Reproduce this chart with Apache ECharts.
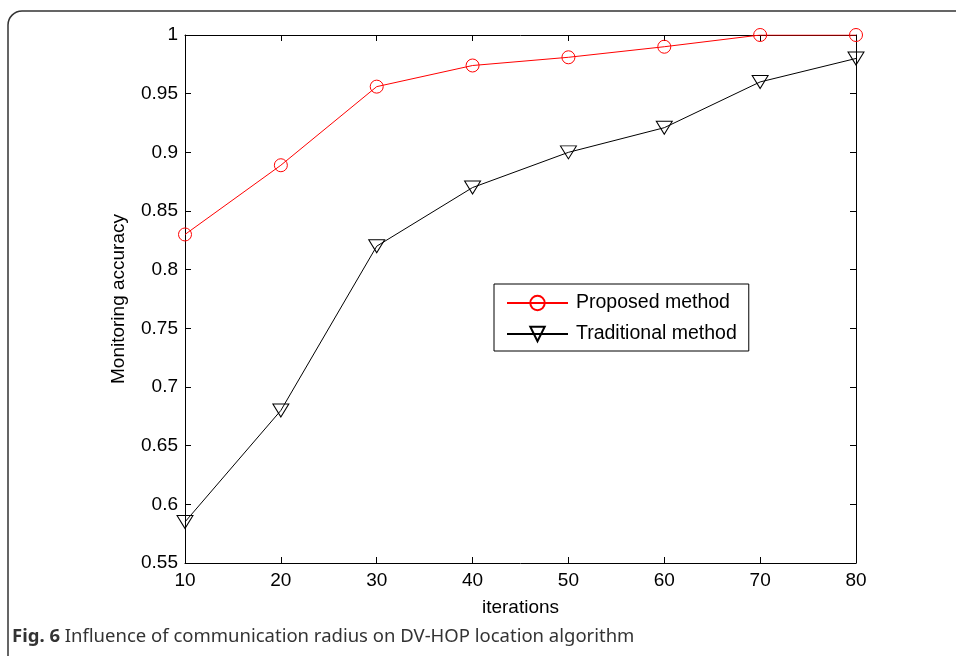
<!DOCTYPE html>
<html>
<head>
<meta charset="utf-8">
<script src="https://cdn.jsdelivr.net/npm/echarts@6/dist/echarts.min.js"></script>
<style>
  html, body { margin: 0; padding: 0; background: #fff; }
  #chart { width: 956px; height: 656px; }
</style>
</head>
<body>
<div id="chart"></div>
<script>
const iterations = [10, 20, 30, 40, 50, 60, 70, 80];
const proposed = [0.830, 0.889, 0.956, 0.974, 0.981, 0.990, 1.000, 1.000];
const traditional = [0.585, 0.680, 0.820, 0.870, 0.900, 0.921, 0.960, 0.980];

const font = '"Liberation Sans", Arial, sans-serif';

function pairs(xs, ys) {
  return xs.map((x, i) => [x, ys[i]]);
}

const chart = echarts.init(document.getElementById('chart'), null, { renderer: 'canvas' });

const hiddenAxis = {
  axisLine: { show: true, lineStyle: { color: '#000', width: 1 } },
  axisTick: { show: true, inside: true, length: 6, lineStyle: { color: '#000' } },
  axisLabel: { show: false },
  splitLine: { show: false }
};

chart.setOption({
  animation: false,
  grid: { left: 185, right: 100, top: 35, bottom: 93 },
  xAxis: [{
    type: 'value', min: 10, max: 80, interval: 10,
    name: 'iterations', nameLocation: 'middle', nameGap: 35,
    nameTextStyle: { fontFamily: font, fontSize: 19, color: '#000' },
    axisLine: { lineStyle: { color: '#000', width: 1 } },
    axisTick: { inside: true, length: 6, lineStyle: { color: '#000' } },
    axisLabel: { fontFamily: font, fontSize: 19, color: '#000', margin: 8 },
    splitLine: { show: false }
  }, {
    type: 'value', min: 10, max: 80, interval: 10, position: 'top', ...hiddenAxis
  }],
  yAxis: [{
    type: 'value', min: 0.55, max: 1, interval: 0.05,
    name: 'Monitoring accuracy', nameLocation: 'middle', nameGap: 57,
    nameTextStyle: { fontFamily: font, fontSize: 19, color: '#000' },
    axisLine: { show: true, lineStyle: { color: '#000', width: 1 } },
    axisTick: { show: true, inside: true, length: 6, lineStyle: { color: '#000' } },
    axisLabel: {
      fontFamily: font, fontSize: 19, color: '#000', margin: 7,
      formatter: v => String(+v.toFixed(2))
    },
    splitLine: { show: false }
  }, {
    type: 'value', min: 0.55, max: 1, interval: 0.05, position: 'right', ...hiddenAxis
  }],
  legend: {
    left: 494, top: 284,
    orient: 'vertical',
    backgroundColor: '#fff',
    borderColor: '#000', borderWidth: 1,
    padding: [9, 12, 7, 12],
    itemWidth: 61, itemHeight: 18, itemGap: 11,
    textStyle: { fontFamily: font, fontSize: 19.5, lineHeight: 20, color: '#000', padding: [0, 0, 0, 3] },
    data: ['Proposed method', 'Traditional method']
  },
  series: [{
    name: 'Proposed method',
    type: 'line',
    data: pairs(iterations, proposed),
    symbol: 'circle', symbolSize: 13,
    lineStyle: { color: '#ff0000', width: 1 },
    itemStyle: { color: 'rgba(255,255,255,0)', borderColor: '#ff0000', borderWidth: 1 },
    z: 3
  }, {
    name: 'Traditional method',
    type: 'line',
    data: pairs(iterations, traditional),
    symbol: 'triangle', symbolSize: [16, 13], symbolRotate: 180,
    lineStyle: { color: '#000', width: 1 },
    itemStyle: { color: 'rgba(255,255,255,0)', borderColor: '#000', borderWidth: 1 },
    z: 2
  }],
  graphic: [{
    type: 'rect',
    shape: { x: 8, y: 11, width: 1000, height: 700, r: 14 },
    style: { fill: null, stroke: '#333', lineWidth: 1.5 },
    silent: true
  }, {
    type: 'text',
    left: 12, top: 627,
    style: {
      text: '{b|Fig. 6} Influence of communication radius on DV-HOP location algorithm',
      font: '18.5px "Noto Sans", sans-serif',
      fill: '#333',
      rich: {
        b: { fontFamily: '"Noto Sans", sans-serif', fontSize: 18.5, fontWeight: 'bold', fill: '#333' }
      }
    }
  }]
});
</script>
</body>
</html>
